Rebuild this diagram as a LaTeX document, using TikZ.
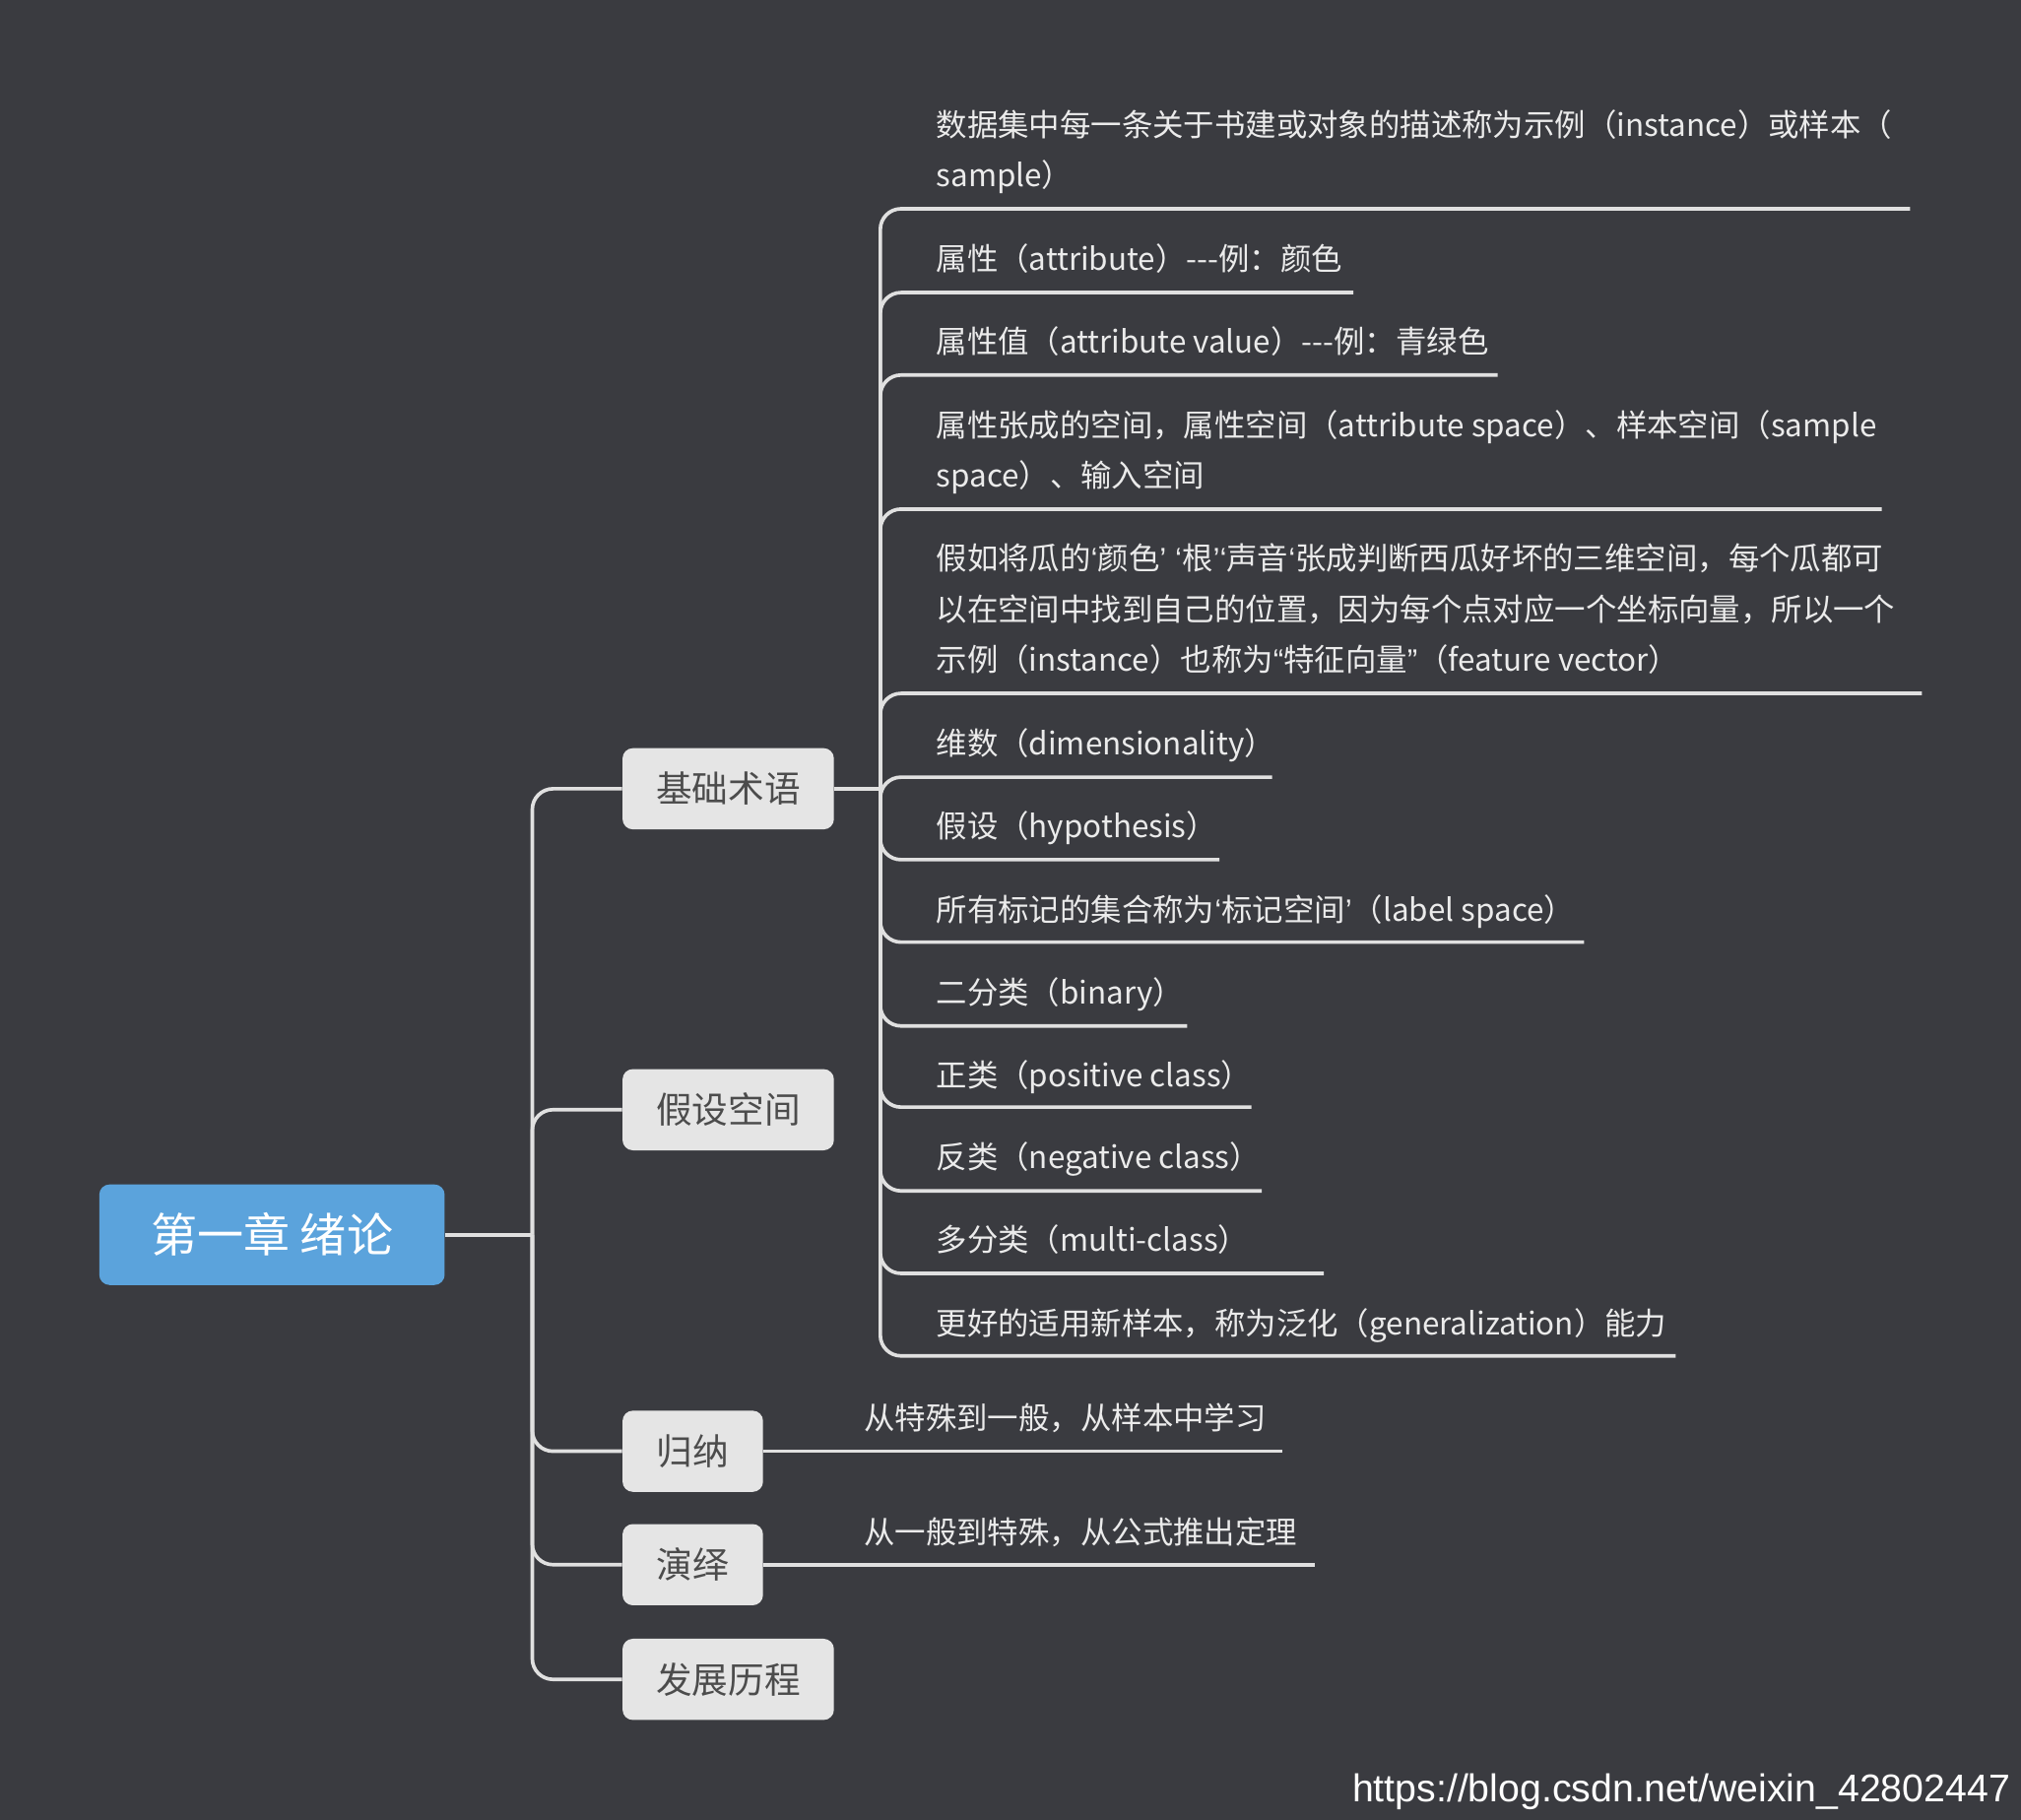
\documentclass[tikz,border=0pt]{standalone}
\usepackage{fontspec}
\setmainfont{Noto Sans CJK SC}[Ligatures=NoCommon]
\newfontfamily\urlfont{Liberation Sans}
\newcommand\q[1]{{\urlfont #1}}
\begin{document}
\begin{tikzpicture}[x=0.5pt,y=-0.5pt,
  conn/.style={draw=white!88!black,line width=1.4pt,rounded corners=8pt},
  lvl/.style={fill=white!90!black,rounded corners=4pt,text=black!70,font=\fontsize{14}{16}\selectfont,inner sep=0pt},
  leaf/.style={anchor=base west,text=white!92!black,font=\fontsize{12}{14}\selectfont,inner sep=0pt}]
\definecolor{bg}{HTML}{3A3B40}
\definecolor{rootblue}{HTML}{5BA3DC}
\fill[bg] (0,0) rectangle (1568,1412);
\useasboundingbox (0,0) rectangle (1568,1412);
\node[fill=rootblue,rounded corners=4pt,text=white,font=\fontsize{18}{20}\selectfont,minimum width=134pt,minimum height=39pt,inner sep=0pt] (root) at (211,958) {第一章 绪论};
\node[lvl,minimum width=82pt,minimum height=31.5pt] (n1) at (565,612) {基础术语};
\node[lvl,minimum width=82pt,minimum height=31.5pt] (n2) at (565,861) {假设空间};
\node[lvl,minimum width=54.5pt,minimum height=31.5pt] (n3) at (537.5,1126) {归纳};
\node[lvl,minimum width=54.5pt,minimum height=31.5pt] (n4) at (537.5,1214) {演绎};
\node[lvl,minimum width=82pt,minimum height=31.5pt] (n5) at (565,1303) {发展历程};
\coordinate (t) at (413,958);
\draw[conn,rounded corners=0pt] (root.east) -- (t);
\foreach \n in {n1,n2,n3,n4,n5} \draw[conn] (t) |- (\n.west);
\coordinate (b) at (683,612);
\draw[conn,rounded corners=0pt] (n1.east) -- (b);
\foreach \yy/\xe in {162/1482,227/1050,291/1162,395/1460,538/1491,603/987,667/946,731/1229,796/921,859/971,924/979,988/1027,1052/1300}
  \draw[conn] (b) |- (\xe,\yy) coordinate (u\yy);
\newcommand\lf[3]{\node[leaf] (#1) at (726,#2+9) {#3};}
\lf{a1}{97}{数据集中每一条关于书建或对象的描述称为示例（instance）或样本（}
\lf{a2}{136}{sample）}
\lf{b1}{201}{属性（attribute）{-}{-}{-}例：颜色}
\lf{c1}{265}{属性值（attribute value）{-}{-}{-}例：青绿色}
\lf{d1}{330}{属性张成的空间，属性空间（attribute space）、样本空间（sample}
\lf{d2}{369}{space）、输入空间}
\lf{e1}{433}{假如将瓜的\q{‘}颜色\q{’ ‘}根\q{’‘}声音\q{‘}张成判断西瓜好坏的三维空间，每个瓜都可}
\lf{e2}{473}{以在空间中找到自己的位置，因为每个点对应一个坐标向量，所以一个}
\lf{e3}{512}{示例（instance）也称为\q{“}特征向量\q{”}（feature vector）}
\lf{f1}{577}{维数（dimensionality）}
\lf{g1}{641}{假设（hypothesis）}
\lf{h1}{706}{所有标记的集合称为\q{‘}标记空间\q{’}（label space）}
\lf{i1}{770}{二分类（binary）}
\lf{j1}{834}{正类（positive class）}
\lf{k1}{898}{反类（negative class）}
\lf{l1}{962}{多分类（multi-class）}
\lf{m1}{1027}{更好的适用新样本，称为泛化（generalization）能力}
\draw[conn] (n3.east) -- (995,1126) coordinate (g3);
\node[leaf] (x1) at (670,1109) {从特殊到一般，从样本中学习};
\draw[conn] (n4.east) -- (1020,1214) coordinate (g4);
\node[leaf] (x2) at (670,1198) {从一般到特殊，从公式推出定理};
\node[anchor=base east,text=white,font=\urlfont\fontsize{15}{17}\selectfont,inner sep=0pt] (w) at (1560,1398) {https://blog.csdn.net/weixin\_42802447};
\end{tikzpicture}
\end{document}
